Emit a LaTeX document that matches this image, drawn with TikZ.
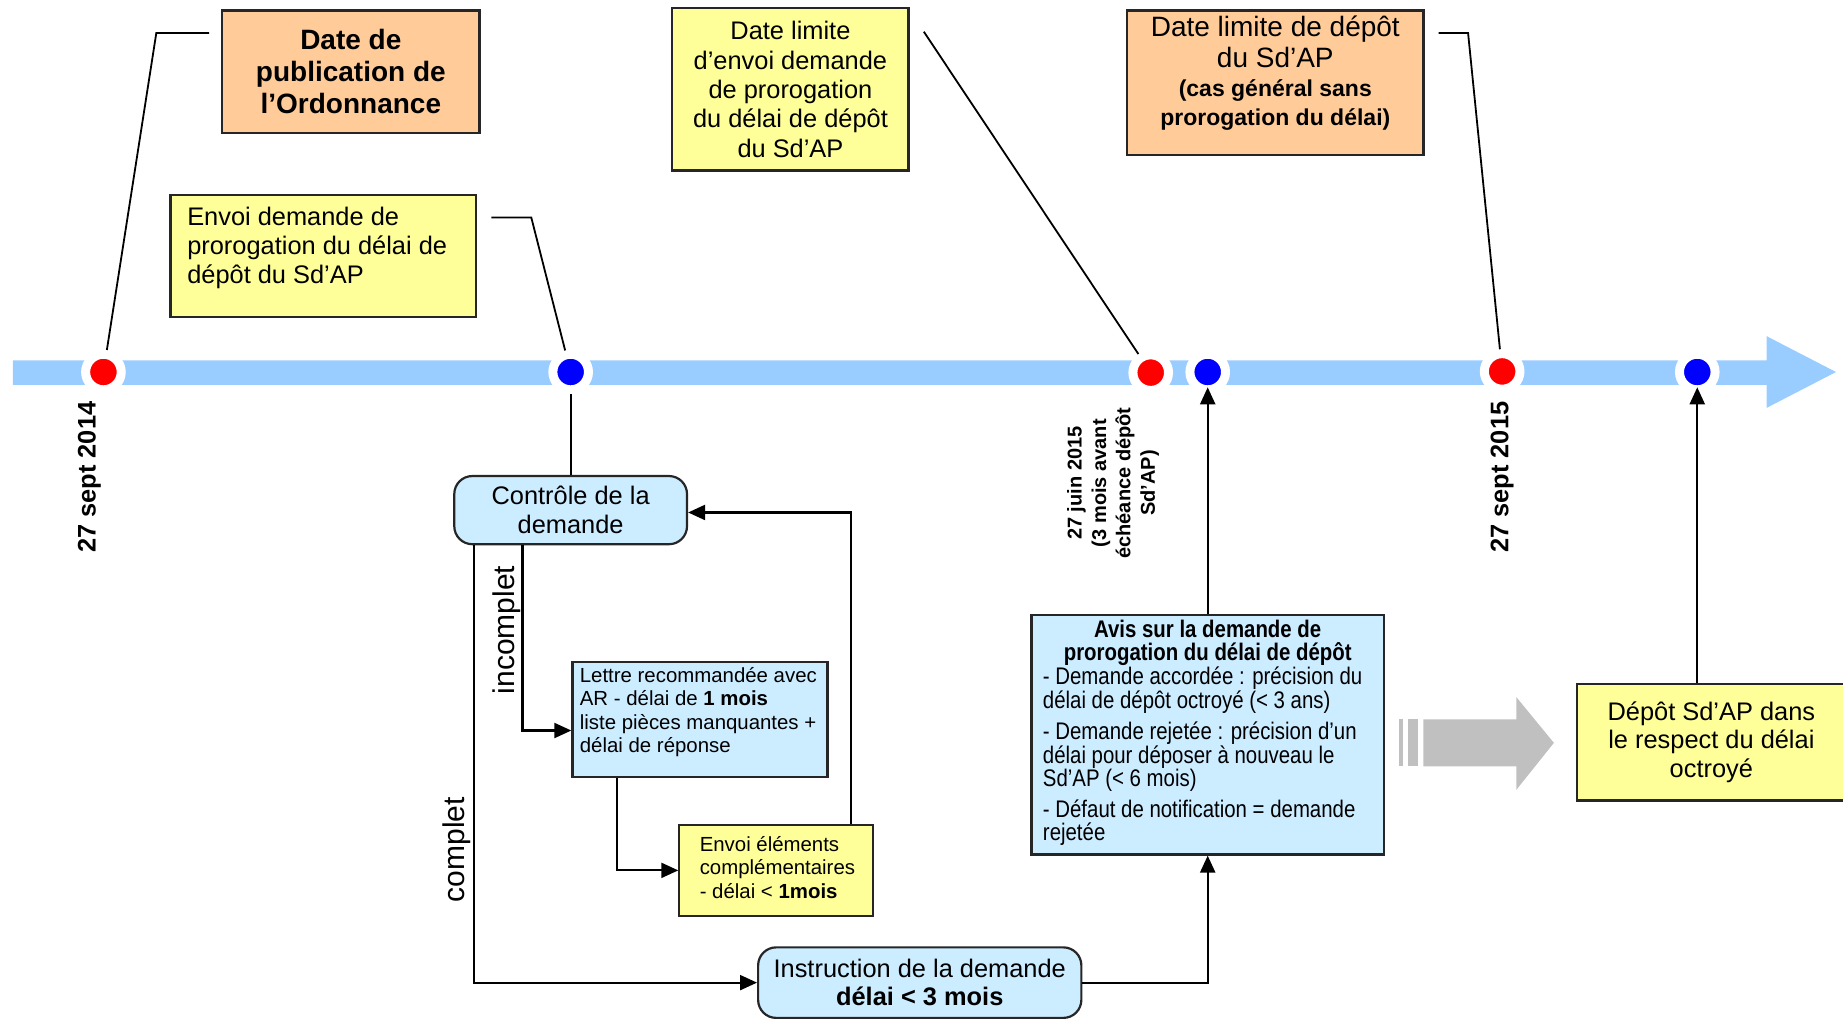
\documentclass[tikz,border=0pt]{standalone}
\usepackage{fontspec}
\setmainfont{Liberation Sans}
\newfontfamily\narrowfont[FakeStretch=0.85]{Liberation Sans}
\usetikzlibrary{arrows.meta,calc}
\definecolor{barblue}{HTML}{99CCFF}
\definecolor{boxyellow}{HTML}{FFFF99}
\definecolor{boxorange}{HTML}{FFCC99}
\definecolor{boxblue}{HTML}{CCECFF}
\definecolor{dotred}{HTML}{FF0000}
\definecolor{dotblue}{HTML}{0000FF}
\definecolor{greyarrow}{HTML}{C0C0C0}
\newlength\px
\setlength\px{0.5877pt}
\begin{document}
\begin{tikzpicture}[x=\px, y=-\px,
  frame/.style={draw=black!85, line width=1.1pt, inner sep=0pt},
  ybox/.style={frame, fill=boxyellow},
  obox/.style={frame, fill=boxorange},
  bbox/.style={frame, fill=boxblue},
  rbox/.style={frame, fill=boxblue, rounded corners=9pt},
  dot/.style={circle, draw=white, line width=4.5pt, minimum size=17.8pt, inner sep=0pt},
  conn/.style={line width=0.9pt, black},
  arr/.style={line width=1.1pt, black, -{Triangle[length=8.5pt,width=7.5pt]}},
  txt/.style={inner sep=0pt, text=black},
  datelbl/.style={txt, rotate=90, font=\bfseries\fontsize{12.7}{15}\selectfont},
]
\useasboundingbox (0,0) rectangle (1568,867);

% timeline
\fill[barblue] (11,306.5) -- (1503,306.5) -- (1503,286) -- (1562,316.5) -- (1503,347) -- (1503,327.5) -- (11,327.5) -- cycle;
\node[dot, fill=dotred]  (d1) at (88,316.5) {};
\node[dot, fill=dotblue] (d2) at (485.5,316.5) {};
\node[dot, fill=dotred]  (d3) at (979,317) {};
\node[dot, fill=dotblue] (d4) at (1027.5,316.5) {};
\node[dot, fill=dotred]  (d5) at (1278,316) {};
\node[dot, fill=dotblue] (d6) at (1444,316.5) {};

% top boxes
\node[obox, minimum width=219\px, minimum height=104\px, align=center,
      font=\bfseries\fontsize{14}{15.9}\selectfont] (pub) at (298.5,61)
      {Date de\\publication de\\l’Ordonnance};

\node[ybox, minimum width=260\px, minimum height=104\px] (envoi) at (275,218) {};
\node[txt, anchor=west, align=left, font=\fontsize{12.7}{14.7}\selectfont] (envoiT) at (159,211)
      {Envoi demande de\\prorogation du délai de\\dépôt du Sd’AP};

\node[ybox, minimum width=201\px, minimum height=138\px, align=center,
      font=\fontsize{12.7}{14.7}\selectfont] (dlenvoi) at (672.5,76)
      {Date limite\\d’envoi demande\\de prorogation\\du délai de dépôt\\du Sd’AP};

\node[obox, minimum width=252\px, minimum height=123\px] (dldepot) at (1085,70.5) {};
\node[txt, align=center, font=\fontsize{14}{15.9}\selectfont] (dldepotT) at (1085,62)
      {Date limite de dépôt\\du Sd’AP\\[-1.5pt]{\bfseries\fontsize{11.5}{13.5}\selectfont (cas général sans}\\[-1.5pt]{\bfseries\fontsize{11.5}{13.5}\selectfont prorogation du délai)}};

% leader lines
\coordinate (c1a) at (133,28);  \coordinate (c1b) at (178,28);
\coordinate (c2a) at (452,185); \coordinate (c2b) at (418,185);
\coordinate (c3a) at (786,27);
\coordinate (c4a) at (1249,28); \coordinate (c4b) at (1224,28);
\draw[conn] (d1) -- (c1a) -- (c1b);
\draw[conn] (d2) -- (c2a) -- (c2b);
\draw[conn] (d3) -- (c3a);
\draw[conn] (d5) -- (c4a) -- (c4b);

% dates
\node[datelbl] (date1) at (76,406) {27 sept 2014};
\node[datelbl] (date5) at (1278,406) {27 sept 2015};
\node[txt, rotate=90, align=center, font=\bfseries\fontsize{10}{12.2}\selectfont] (date3) at (947,411)
      {27 juin 2015\\(3 mois avant\\échéance dépôt\\Sd’AP)};

% flow chart
\node[rbox, minimum width=198\px, minimum height=58\px, align=center,
      font=\fontsize{12.7}{14.7}\selectfont] (controle) at (485.5,434) {Contrôle de la\\demande};

\node[bbox, minimum width=217\px, minimum height=98\px] (lettre) at (595.5,612) {};
\node[txt, anchor=west, align=left, font=\fontsize{10.2}{11.75}\selectfont] (lettreT) at (493,606)
      {Lettre recommandée avec\\AR - délai de \textbf{1 mois}\\liste pièces manquantes +\\délai de réponse};

\node[ybox, minimum width=165\px, minimum height=77\px] (envoiel) at (660.5,740.5) {};
\node[txt, anchor=west, align=left, font=\fontsize{10.2}{11.75}\selectfont] (envoielT) at (595,738)
      {Envoi éléments\\complémentaires\\- délai < \textbf{1mois}};

\node[rbox, minimum width=275\px, minimum height=60\px, align=center,
      font=\fontsize{12.7}{14}\selectfont] (instr) at (782.5,836)
      {Instruction de la demande\\\textbf{délai < 3 mois}};

\node[bbox, minimum width=300\px, minimum height=204\px] (avis) at (1027.5,625) {};
\node[txt, anchor=north, align=center, font=\narrowfont\bfseries\fontsize{12}{11.75}\selectfont] (avisT) at (1027.5,527)
      {Avis sur la demande de\\prorogation du délai de dépôt};
\node[txt, anchor=north west, align=left, font=\narrowfont\fontsize{12}{11.75}\selectfont] (avisL) at (887,567)
      {- Demande accordée : précision du\\délai de dépôt octroyé (< 3 ans)\\[4pt]- Demande rejetée : précision d’un\\délai pour déposer à nouveau le\\Sd’AP (< 6 mois)\\[3.5pt]- Défaut de notification = demande\\rejetée};

\node[ybox, minimum width=228\px, minimum height=99\px, align=center,
      font=\fontsize{12.7}{14.4}\selectfont] (depot) at (1456,631.5)
      {Dépôt Sd’AP dans\\le respect du délai\\octroyé};

% grey arrow
\fill[greyarrow] (1190,612) rectangle (1194,652);
\fill[greyarrow] (1198,612) rectangle (1206,652);
\fill[greyarrow] (1211,612) -- (1290,612) -- (1290,593) -- (1322,632) -- (1290,672) -- (1290,652) -- (1211,652) -- cycle;

% labels
\node[txt, rotate=90, font=\fontsize{15}{18}\selectfont] (lblinc) at (431,536) {incomplet};
\node[txt, rotate=90, font=\fontsize{15}{18}\selectfont] (lblcomp) at (389,723) {complet};

% connectors
\draw[conn, line width=1.1pt] (d2.south) -- (controle.north);
\draw[arr] ($(controle.south west)+(59,0)$) |- ($(lettre.west)+(0,9.5)$);
\draw[arr] ($(controle.south west)+(18,0)$) |- (instr.west);
\draw[arr] ($(lettre.south west)+(39,0)$) |- (envoiel.west);
\draw[arr] ($(envoiel.north east)+(-20,0)$) |- ($(controle.east)+(0,2)$);
\draw[arr] (instr.east) -| (avis.south);
\draw[arr, shorten >=-3.5pt] (avis.north) -- (d4.south);
\draw[arr, shorten >=-3.5pt] (d6 |- depot.north) -- (d6.south);
\end{tikzpicture}
\end{document}
